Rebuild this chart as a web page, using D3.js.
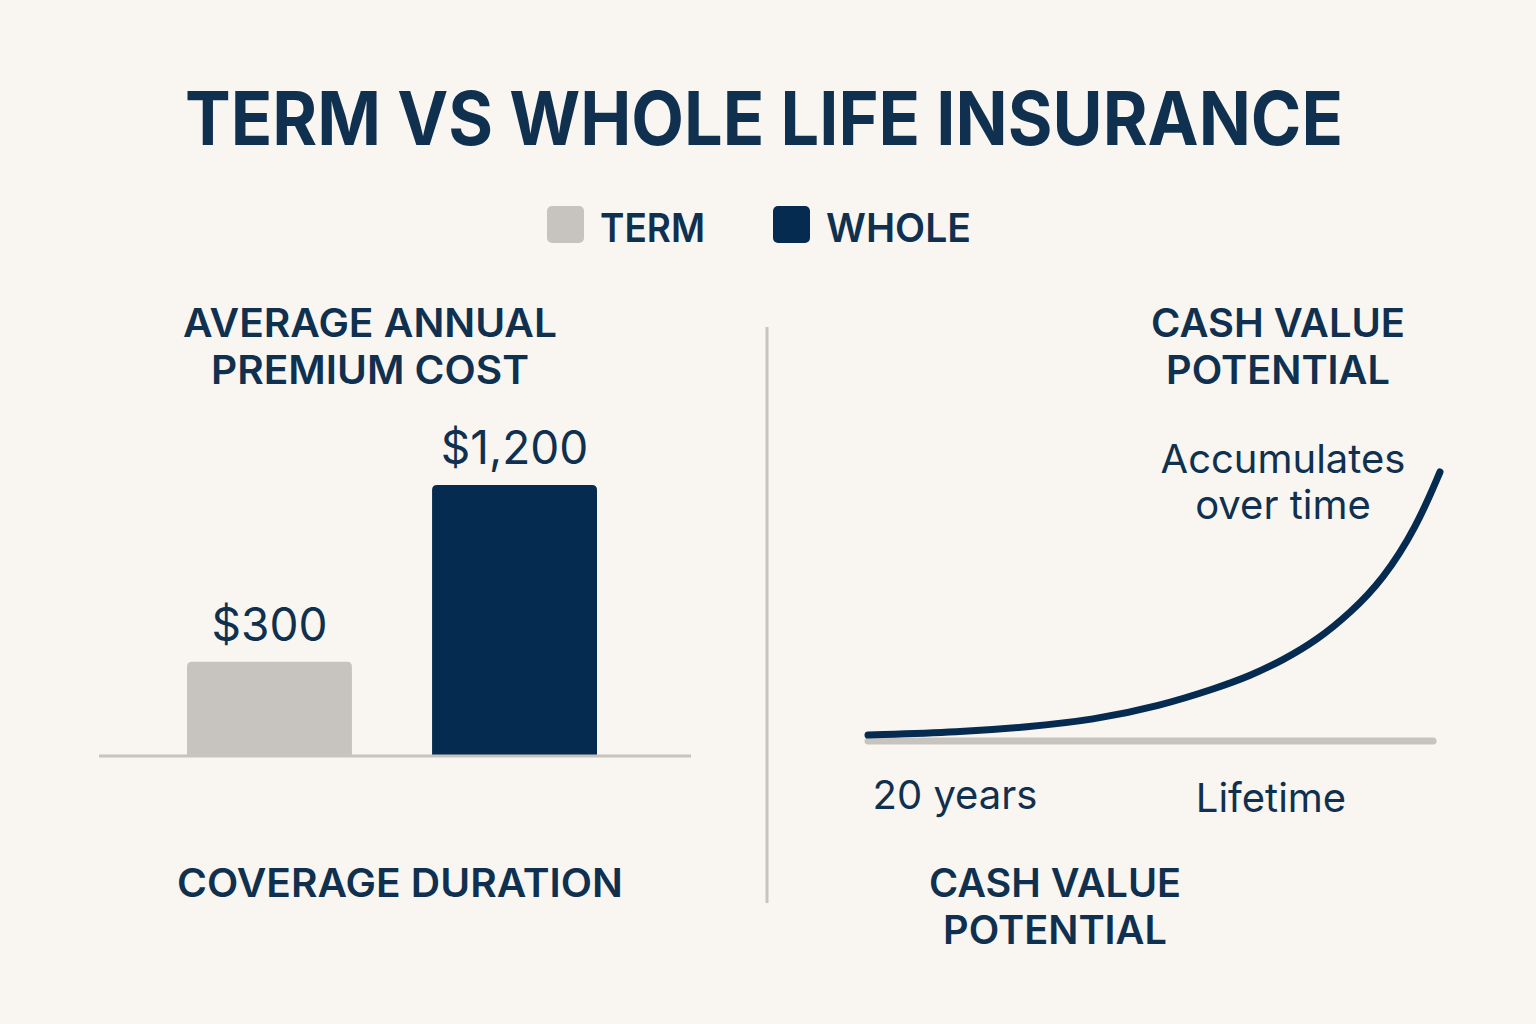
<!DOCTYPE html>
<html>
<head>
<meta charset="utf-8">
<script src="https://cdn.jsdelivr.net/npm/d3@7"></script>
<style>
  html, body { margin: 0; padding: 0; background: #f9f6f1; }
  svg { display: block; }
</style>
</head>
<body>
<svg id="chart"></svg>
<script>
// premium bars
const plans = ["TERM", "WHOLE"];
const premiums = [300, 1200];
const premiumLabels = ["$300", "$1,200"];

// cash value curve (share of lifetime elapsed vs relative cash value)
const timeline = [0, 16.1, 27.8, 39.3, 51, 61, 66.8, 72.6, 78.5, 84.3, 90, 95.9, 100];
const cashValue = [2.2, 3.3, 5.2, 7.8, 13, 19.7, 24.2, 30.1, 37.5, 47.6, 59.9, 79.6, 100];
const durationTicks = ["20 years", "Lifetime"];

const width = 1536, height = 1024;
const navy = "#062b50", ink = "#10304f", grey = "#c7c4bf";
const font = "Inter, 'Open Sans', sans-serif";

const svg = d3.select("#chart")
  .attr("width", width)
  .attr("height", height);

svg.append("rect")
  .attr("width", width)
  .attr("height", height)
  .attr("fill", "#f9f6f1");

const color = d3.scaleOrdinal().domain(plans).range([grey, navy]);

// fit text to a target width
function label(x, y, str, size, weight, len) {
  const t = svg.append("text")
    .attr("x", x)
    .attr("y", y)
    .attr("text-anchor", "middle")
    .attr("font-family", font)
    .attr("font-size", size)
    .attr("font-weight", weight)
    .attr("fill", ink)
    .text(str);
  if (len) t.attr("textLength", len).attr("lengthAdjust", "spacingAndGlyphs");
  return t;
}

// title
label(764, 145, "TERM VS WHOLE LIFE INSURANCE", 74, 700, 1158);

// legend
const legend = svg.append("g");
const legendX = d3.scaleOrdinal().domain(plans).range([547, 773]);
const legendW = { TERM: 105, WHOLE: 145 };
plans.forEach(p => {
  legend.append("rect")
    .attr("x", legendX(p))
    .attr("y", 206)
    .attr("width", 37)
    .attr("height", 37)
    .attr("rx", 5)
    .attr("fill", color(p));
  legend.append("text")
    .attr("x", legendX(p) + 53)
    .attr("y", 242)
    .attr("font-family", font)
    .attr("font-size", 40)
    .attr("font-weight", 600)
    .attr("fill", ink)
    .attr("textLength", legendW[p])
    .attr("lengthAdjust", "spacingAndGlyphs")
    .text(p);
});

// section headings
label(370, 337, "AVERAGE ANNUAL", 39, 600, 374);
label(370, 384, "PREMIUM COST", 39, 600, 318);
label(1278, 337, "CASH VALUE", 39, 600, 254);
label(1278, 384, "POTENTIAL", 39, 600, 224);
label(400, 897, "COVERAGE DURATION", 39, 600, 446);
label(1055, 897, "CASH VALUE", 39, 600, 252);
label(1055, 944, "POTENTIAL", 39, 600, 224);

// divider
svg.append("line")
  .attr("x1", 767).attr("x2", 767)
  .attr("y1", 327).attr("y2", 903)
  .attr("stroke", grey)
  .attr("stroke-width", 3);

// bar chart
const x = d3.scaleBand()
  .domain(plans)
  .range([187, 597])
  .paddingInner(0.327)
  .paddingOuter(0);

const y = d3.scaleLinear()
  .domain([-175, 1200])
  .range([755, 485]);

svg.append("g")
  .selectAll("path")
  .data(plans)
  .join("path")
    .attr("d", (p, i) => {
      const x0 = x(p), x1 = x(p) + x.bandwidth();
      const y0 = y(premiums[i]), y1 = y(y.domain()[0]), r = 5;
      return `M${x0},${y1}V${y0 + r}Q${x0},${y0} ${x0 + r},${y0}H${x1 - r}Q${x1},${y0} ${x1},${y0 + r}V${y1}Z`;
    })
    .attr("fill", p => color(p));

svg.append("line")
  .attr("x1", 99).attr("x2", 691)
  .attr("y1", y(y.domain()[0]) + 1).attr("y2", y(y.domain()[0]) + 1)
  .attr("stroke", grey)
  .attr("stroke-width", 3);

svg.append("g")
  .selectAll("text")
  .data(plans)
  .join("text")
    .attr("x", p => x(p) + x.bandwidth() / 2)
    .attr("y", (p, i) => y(premiums[i]) - 21)
    .attr("text-anchor", "middle")
    .attr("font-family", font)
    .attr("font-size", 46)
    .attr("font-weight", 400)
    .attr("fill", ink)
    .text((p, i) => premiumLabels[i]);

// cash value curve
const cx = d3.scaleLinear().domain([0, 100]).range([868, 1440]);
const cy = d3.scaleLinear().domain([0, 100]).range([741, 472]);

svg.append("line")
  .attr("x1", cx(0)).attr("x2", cx(98.8))
  .attr("y1", cy(0)).attr("y2", cy(0))
  .attr("stroke", grey)
  .attr("stroke-width", 7)
  .attr("stroke-linecap", "round");

const line = d3.line()
  .x((d, i) => cx(timeline[i]))
  .y(d => cy(d))
  .curve(d3.curveBasis);

svg.append("path")
  .attr("d", line(cashValue))
  .attr("fill", "none")
  .attr("stroke", navy)
  .attr("stroke-width", 7)
  .attr("stroke-linecap", "round");

const tickX = d3.scalePoint().domain(durationTicks).range([955, 1271]);
svg.append("g")
  .selectAll("text")
  .data(durationTicks)
  .join("text")
    .attr("x", d => tickX(d))
    .attr("y", (d, i) => 809 + i * 3)
    .attr("text-anchor", "middle")
    .attr("font-family", font)
    .attr("font-size", 40)
    .attr("fill", ink)
    .text(d => d);

label(1283, 473, "Accumulates", 40, 400);
label(1283, 519, "over time", 40, 400);
</script>
</body>
</html>
